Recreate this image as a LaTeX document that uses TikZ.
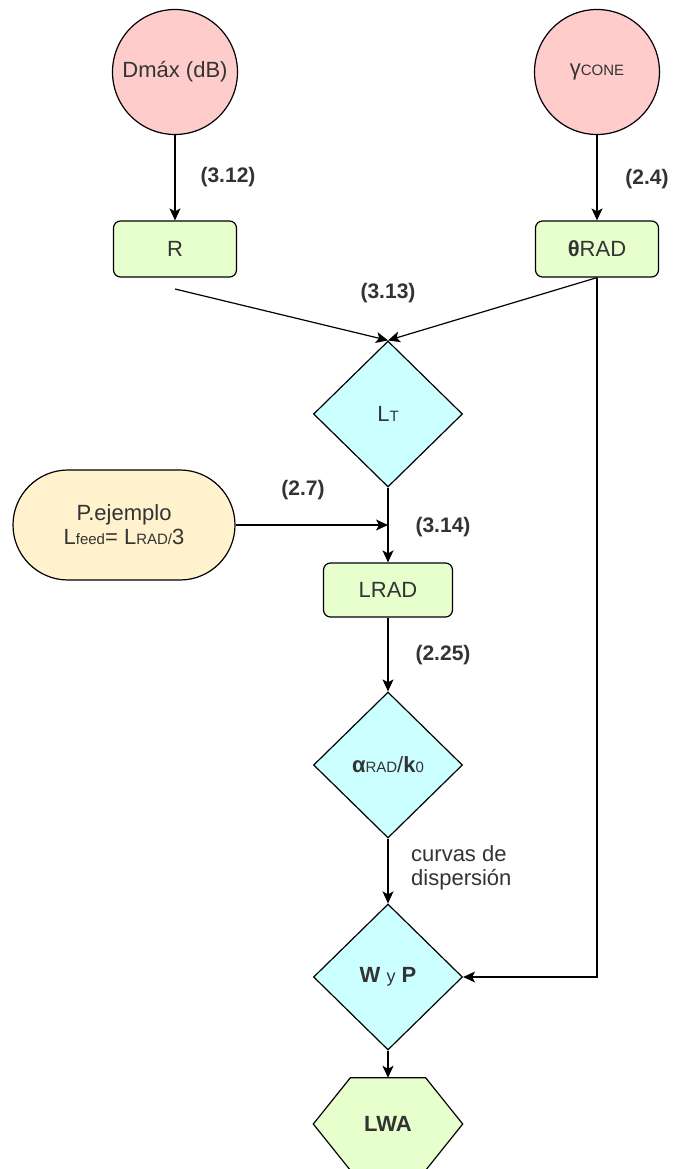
\documentclass[tikz,border=0pt]{standalone}
\usepackage{fontspec}
\setmainfont{Liberation Sans}
\usetikzlibrary{shapes.geometric,arrows.meta,backgrounds}
\definecolor{pinkfill}{HTML}{FFCCCC}
\definecolor{greenfill}{HTML}{E6FFCC}
\definecolor{cyanfill}{HTML}{CCFFFF}
\definecolor{yellowfill}{HTML}{FFF2CC}
\definecolor{txtcol}{HTML}{333333}
\newcommand\smsub[1]{{\fontsize{15}{17}\selectfont #1}}
\tikzset{
  every node/.style={font=\fontsize{22}{24}\selectfont, text=txtcol},
  base/.style={draw=black, line width=1.2pt, inner sep=0pt, align=center},
  circ/.style={base, circle, fill=pinkfill, minimum size=125pt},
  gbox/.style={base, rectangle, rounded corners=7pt, fill=greenfill, minimum width=123pt, minimum height=56pt},
  dia/.style={base, diamond, fill=cyanfill, minimum width=149pt, minimum height=146pt},
  stadium/.style={base, rectangle, rounded corners=55pt, fill=yellowfill, minimum width=222pt, minimum height=110pt},
  hexbox/.style={rectangle, inner sep=0pt, minimum width=149pt, minimum height=92pt},
  lbl/.style={font=\bfseries\fontsize{21}{24}\selectfont},
  arr/.style={line width=1.2pt, -{Stealth[length=12pt,width=11pt,inset=3pt]}},
  ln/.style={line width=1.2pt}
}
\begin{document}
\begin{tikzpicture}[x=1pt,y=-1pt]
\useasboundingbox (0,0) rectangle (673,1169);

\node[circ] (dmax) at (175,72) {Dmáx (dB)};
\node[circ] (gcone) at (597,72) {γ\smsub{CONE}};
\node[gbox] (R) at (175,249) {R};
\node[gbox] (theta) at (597,249) {\textbf{θ}RAD};
\node[dia] (LT) at (388,414) {L\smsub{T}};
\node[stadium] (pej) at (124,525) {P.ejemplo\\L\smsub{feed}= L\smsub{RAD/}3};
\node[gbox, minimum width=129pt, minimum height=54pt] (lrad) at (388,590) {LRAD};
\node[dia] (alpha) at (388,765) {\textbf{α}\smsub{RAD}/\textbf{k}\smsub{0}};
\node[dia] (wyp) at (388,977) {\textbf{W} {\fontsize{18}{20}\selectfont y} \textbf{P}};
\node[hexbox] (lwa) at (388,1124) {\textbf{LWA}};
\begin{scope}[on background layer]
\fill[white] (0,0) rectangle (673,1169);
\draw[ln, fill=greenfill] (lwa.west) -- ([xshift=37pt]lwa.north west) -- ([xshift=-37pt]lwa.north east) -- (lwa.east) -- ([xshift=-37pt]lwa.south east) -- ([xshift=37pt]lwa.south west) -- cycle;
\end{scope}

\coordinate (rs) at (175,289);

\draw[arr] (dmax) -- (R);
\draw[arr] (gcone) -- (theta);
\draw[arr] (rs) -- (LT.north);
\draw[arr] (theta.south) -- (LT.north);
\draw[arr] (LT) -- (lrad);
\draw[arr] (pej.east) -- (pej.east -| LT.south);
\draw[arr] (lrad) -- (alpha);
\draw[arr] (alpha) -- (wyp);
\draw[arr] (wyp) -- (lwa);
\draw[arr] (theta.south) |- (wyp.east);

\node[lbl] (l312) at (228,177) {(3.12)};
\node[lbl] (l24) at (647,179) {(2.4)};
\node[lbl] (l313) at (388,293) {(3.13)};
\node[lbl] (l27) at (303,490) {(2.7)};
\node[lbl] (l314) at (443,527) {(3.14)};
\node[lbl] (l225) at (443,655) {(2.25)};
\node[anchor=west, align=left, inner sep=0pt] (curv) at (411,868) {curvas de\\dispersión};
\end{tikzpicture}
\end{document}
